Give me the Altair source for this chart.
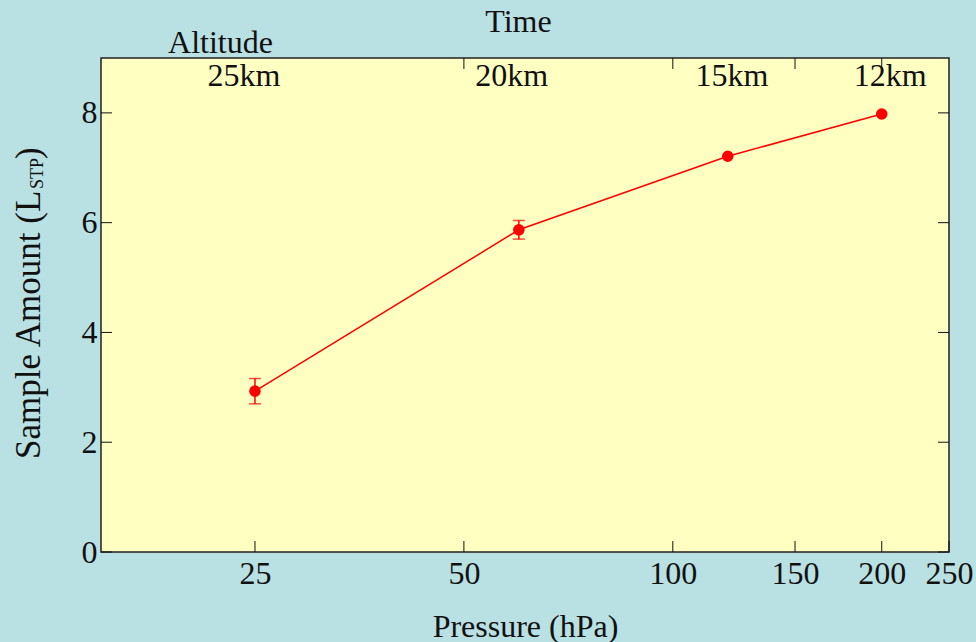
import altair as alt
import pandas as pd

# Measured samples
pressure = [25, 60, 120, 200]          # hPa
amount = [2.93, 5.87, 7.21, 7.98]      # L (STP)
amount_err = [0.23, 0.17, 0.0, 0.0]

# Axis tick values
x_ticks = [25, 50, 100, 150, 200, 250]
x_ticks_top = [50, 100, 150, 200]
y_ticks = [0, 2, 4, 6, 8]

# Altitude markers along the top edge (placed at their pressure level)
alt_labels = ["25km", "20km", "15km", "12km"]
alt_label_pressure = [24.1, 58.6, 121.7, 205.7]

W, H = 848, 494
FONT = "Liberation Serif"
FS = 32
RED = "#ff0000"
INK = "#111111"
TICK = 11

xscale = alt.Scale(type="log", domain=[15, 250], nice=False)
yscale = alt.Scale(domain=[0, 9], nice=False, zero=False)

df = pd.DataFrame({"p": pressure, "v": amount, "e": amount_err})
df["lo"] = df["v"] - df["e"]
df["hi"] = df["v"] + df["e"]

x_axis = alt.Axis(
    values=x_ticks, labelExpr="datum.value", ticks=False, domain=False, grid=False,
    labelFont=FONT, labelFontSize=FS, labelColor=INK, labelPadding=6,
    labelFlush=False, labelOverlap=False,
    title="Pressure (hPa)", titleFont=FONT, titleFontSize=FS,
    titleFontWeight="normal", titleColor=INK,
    titleBaseline="alphabetic", titleY=84, titleX=W / 2, titleAlign="center",
)
y_axis = alt.Axis(
    values=y_ticks, format="d", ticks=False, domain=False, grid=False,
    labelFont=FONT, labelFontSize=FS, labelColor=INK, labelPadding=4,
    title="",
)

# Shared position channels for the secondary layers (axis comes from the line layer)
def X(field):
    return alt.X(field, scale=xscale)


def Y(field):
    return alt.Y(field, scale=yscale)


base = alt.Chart(df)

line = base.mark_line(color=RED, strokeWidth=1.5).encode(
    x=alt.X("p:Q", scale=xscale, axis=x_axis),
    y=alt.Y("v:Q", scale=yscale, axis=y_axis),
)
points = base.mark_circle(color=RED, size=135, opacity=1).encode(
    x=X("p:Q"), y=Y("v:Q")
)

err = base.transform_filter("datum.e > 0")
err_rule = err.mark_rule(color=RED, strokeWidth=1.5).encode(
    x=X("p:Q"), y=Y("lo:Q"), y2="hi:Q"
)
cap_lo = err.mark_tick(color=RED, orient="horizontal", size=12, thickness=1.5).encode(
    x=X("p:Q"), y=Y("lo:Q")
)
cap_hi = err.mark_tick(color=RED, orient="horizontal", size=12, thickness=1.5).encode(
    x=X("p:Q"), y=Y("hi:Q")
)

# Inward-pointing tick marks on all four sides
xt = alt.Chart(pd.DataFrame({"t": x_ticks}))
xt_top = alt.Chart(pd.DataFrame({"t": x_ticks_top}))
yt = alt.Chart(pd.DataFrame({"t": y_ticks}))
tick_style = dict(color=INK, strokeWidth=1)

ticks_bottom = xt.mark_rule(**tick_style).encode(
    x=X("t:Q"), y=alt.value(H), y2=alt.value(H - TICK)
)
ticks_top = xt_top.mark_rule(**tick_style).encode(
    x=X("t:Q"), y=alt.value(0), y2=alt.value(TICK)
)
ticks_left = yt.mark_rule(**tick_style).encode(
    y=Y("t:Q"), x=alt.value(0), x2=alt.value(TICK)
)
ticks_right = yt.mark_rule(**tick_style).encode(
    y=Y("t:Q"), x=alt.value(W), x2=alt.value(W - TICK)
)

# Altitude labels inside the top edge
alt_df = pd.DataFrame({"p": alt_label_pressure, "label": alt_labels})
alt_text = alt.Chart(alt_df).mark_text(
    font=FONT, fontSize=FS, color=INK, align="center", baseline="alphabetic"
).encode(x=X("p:Q"), y=alt.value(28), text="label:N")


def free_text(s, x, y, size=FS, angle=0, align="center"):
    return alt.Chart(pd.DataFrame({"s": [s]})).mark_text(
        font=FONT, fontSize=size, color=INK, align=align,
        baseline="alphabetic", angle=angle,
    ).encode(text="s:N", x=alt.value(x), y=alt.value(y))


altitude_title = free_text("Altitude", 119.5, -5)
time_title = free_text("Time", 417.5, -26)

# Rotated y title with a subscripted "STP"
y_title_main = free_text("Sample Amount (L", -61, 401, size=35, angle=270, align="left")
y_title_sub = free_text("STP", -58, 131, size=18, angle=270, align="left")
y_title_close = free_text(")", -61, 101, size=35, angle=270, align="left")

chart = alt.layer(
    line, err_rule, cap_lo, cap_hi, points,
    ticks_bottom, ticks_top, ticks_left, ticks_right,
    alt_text, altitude_title, time_title,
    y_title_main, y_title_sub, y_title_close,
).properties(
    width=W, height=H,
    background="#b9e0e3",
    padding={"left": 101, "top": 58, "right": 27, "bottom": 90},
    autosize=alt.AutoSizeParams(type="none"),
).configure_view(
    fill="#ffffc2", stroke="#222222", strokeWidth=1.5,
)

chart.save("out.html", embed_options={"renderer": "svg", "actions": False})
